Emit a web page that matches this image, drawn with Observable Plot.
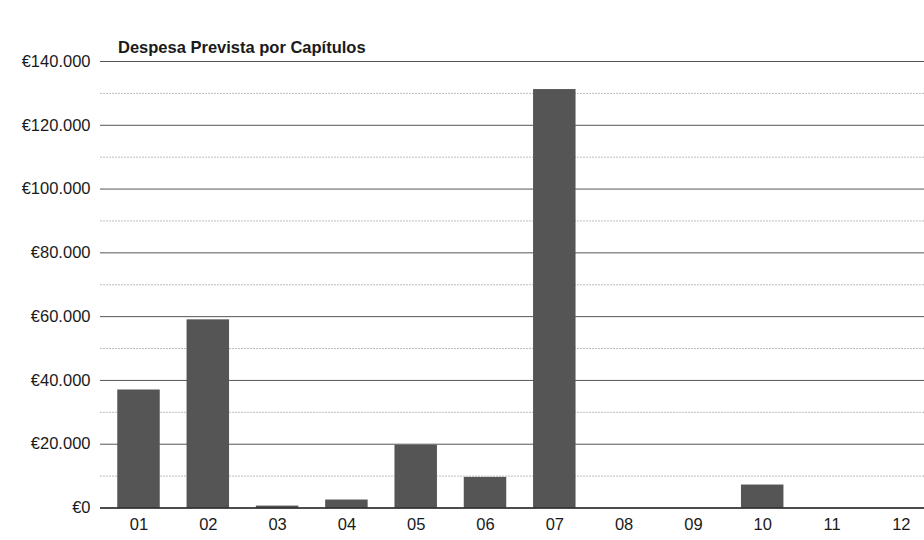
<!DOCTYPE html>
<html>
<head>
<meta charset="utf-8">
<script src="https://cdn.jsdelivr.net/npm/d3@7"></script>
<script src="https://cdn.jsdelivr.net/npm/@observablehq/plot@0.6"></script>
<style>
  body { margin: 0; background: #fff; font-family: "Liberation Sans", Arial, sans-serif; }
  #wrap { position: relative; width: 924px; height: 540px; }
  #title { position: absolute; left: 118px; top: 37px; font-size: 16.5px; font-weight: bold; color: #1a1a1a; line-height: 20px; }
</style>
</head>
<body>
<div id="wrap">
  <div id="title">Despesa Prevista por Capítulos</div>
</div>
<script>
const categories = ["01","02","03","04","05","06","07","08","09","10","11","12"];
const values = [37000, 59000, 600, 2500, 19700, 9600, 131200, 0, 0, 7200, 0, 0];
const majorTicks = [0, 20000, 40000, 60000, 80000, 100000, 120000, 140000];
const minorTicks = [10000, 30000, 50000, 70000, 90000, 110000, 130000];

const data = categories.map((c, i) => ({cap: c, value: values[i]}));
const locale = d3.formatLocale({decimal: ",", thousands: ".", grouping: [3], currency: ["€", ""]});
const fmt = locale.format("$,.0f");

const chart = Plot.plot({
  width: 924,
  height: 540,
  marginLeft: 100,
  marginRight: 0,
  marginTop: 61,
  marginBottom: 32.5,
  style: {fontFamily: "'Liberation Sans', Arial, sans-serif", fontSize: "16px", color: "#1a1a1a", background: "transparent"},
  x: {domain: categories, range: [103.85, 935.45], paddingInner: 0.387, paddingOuter: 0.1935, round: false, label: null},
  y: {domain: [0, 140000], label: null},
  marks: [
    Plot.ruleY(minorTicks, {stroke: "#bdbdbd", strokeWidth: 1, strokeDasharray: "2,1"}),
    Plot.ruleY(majorTicks.filter(d => d > 0), {stroke: "#555", strokeWidth: 1}),
    Plot.barY(data, {x: "cap", y: "value", fill: "#555"}),
    Plot.ruleY([0], {stroke: "#111", strokeWidth: 1.5}),
    Plot.axisY({ticks: majorTicks, tickFormat: fmt, tickSize: 0, tickPadding: 10, fontSize: 16.5}),
    Plot.axisX({tickSize: 0, tickPadding: 10, fontSize: 16.5})
  ]
});
chart.style.position = "absolute";
chart.style.left = "0";
chart.style.top = "0";
document.getElementById("wrap").appendChild(chart);
</script>
</body>
</html>
